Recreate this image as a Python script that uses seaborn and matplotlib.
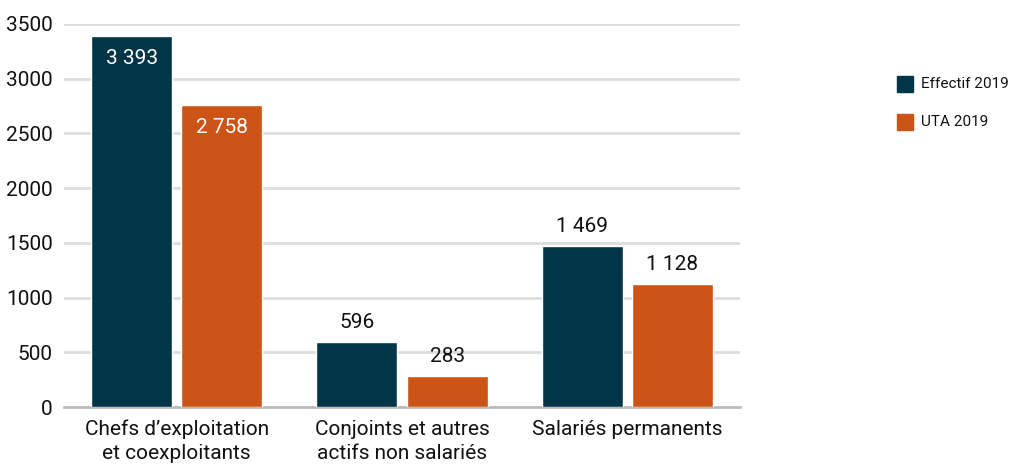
import matplotlib
matplotlib.use("Agg")
import matplotlib.pyplot as plt
import seaborn as sns
import pandas as pd

# données
categories = ["Chefs d’exploitation\net coexploitants",
              "Conjoints et autres\nactifs non salariés",
              "Salariés permanents"]
series = ["Effectif 2019", "UTA 2019"]
effectif_2019 = [3393, 596, 1469]
uta_2019 = [2758, 283, 1128]
yticks = [0, 500, 1000, 1500, 2000, 2500, 3000, 3500]

colors = {"Effectif 2019": "#023547", "UTA 2019": "#CB5416"}

df = pd.DataFrame({
    "Categorie": categories * 2,
    "Valeur": effectif_2019 + uta_2019,
    "Serie": [series[0]] * 3 + [series[1]] * 3,
})

sns.set_style("white")
plt.rcParams["font.family"] = ["Roboto", "DejaVu Sans"]

fig = plt.figure(figsize=(10.11, 4.65), dpi=100)
ax = fig.add_axes([64 / 1011, 1 - 407 / 465, 676 / 1011, 383 / 465])

sns.barplot(data=df, x="Categorie", y="Valeur", hue="Serie", palette=colors,
            width=0.8, gap=0.1, saturation=1, ax=ax, legend=False, zorder=3)

ax.set_xlim(-0.5, 2.5)
ax.set_ylim(0, 3500)
ax.set_yticks(yticks)
ax.set_yticklabels([str(v) for v in yticks], fontsize=15, color="#111111")
ax.yaxis.grid(True, color="#DDDDDD", linewidth=2, zorder=0)
ax.set_axisbelow(True)
ax.tick_params(axis="y", length=0, pad=8)
ax.tick_params(axis="x", which="major", length=0, labelsize=15, pad=9,
               labelcolor="#111111")
for lab in ax.get_xticklabels():
    lab.set_linespacing(1.35)
ax.set_xticks([-0.5, 0.5, 1.5, 2.5], minor=True)
ax.tick_params(axis="x", which="minor", direction="in", length=8, width=2,
               color="#BBBBBB")
ax.set_xlabel("")
ax.set_ylabel("")
for s in ["top", "right", "left"]:
    ax.spines[s].set_visible(False)
ax.spines["bottom"].set_color("#BBBBBB")
ax.spines["bottom"].set_linewidth(2)

# étiquettes de valeurs
for container, name in zip(ax.containers, series):
    for i, bar in enumerate(container):
        h = bar.get_height()
        txt = f"{int(h):,}".replace(",", " ")
        x = bar.get_x() + bar.get_width() / 2
        if i == 0:
            ax.text(x, h - 120, txt, ha="center", va="top", color="white", fontsize=15)
        else:
            ax.text(x, h + 90, txt, ha="center", va="bottom", color="#111111", fontsize=15)

# légende
for j, name in enumerate(series):
    y = 84 + j * 38
    fig.patches.append(plt.Rectangle((897 / 1011, 1 - (y + 8) / 465), 16 / 1011, 16 / 465,
                                     transform=fig.transFigure, color=colors[name]))
    fig.text(921 / 1011, 1 - y / 465, name, va="center", ha="left", fontsize=11,
             color="#111111")

fig.savefig("out.png", dpi=100)
